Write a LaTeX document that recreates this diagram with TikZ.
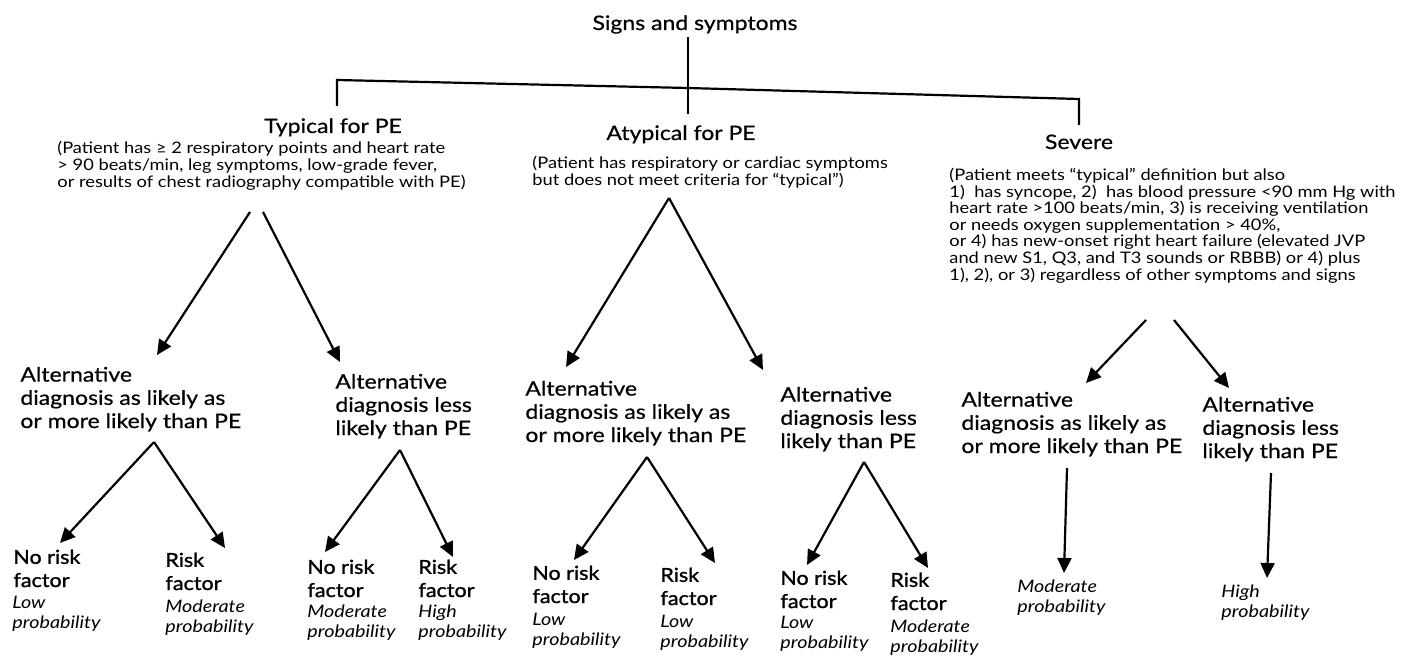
\documentclass[tikz,border=0pt]{standalone}
\usepackage{fontspec}
\setmainfont{Lato}[FakeStretch=1.15]
\newfontfamily\midfont{Lato}[FakeStretch=1.15,FakeBold=0.6]
\newfontfamily\heavyfont{Lato}[FakeStretch=1.12,FakeBold=1.2]
\usetikzlibrary{arrows.meta}
\begin{document}
\begin{tikzpicture}[x=0.5pt,y=-0.5pt,
  ln/.style={line width=1.1pt},
  arr/.style={line width=1.1pt,-{Triangle[length=7.5pt,width=7pt]}},
  ttl/.style={inner sep=0pt,anchor=base,font=\midfont\fontsize{10}{12}\selectfont},
  desc/.style={inner sep=0pt,align=left,anchor=base west,font=\fontsize{7.95}{8.3}\selectfont},
  child/.style={inner sep=0pt,align=left,anchor=base west,font=\midfont\fontsize{10}{11.6}\selectfont},
  leaf/.style={inner sep=0pt,align=left,anchor=base west,font=\heavyfont\fontsize{9.6}{11.6}\selectfont},
  prob/.style={inner sep=0pt,align=left,anchor=base west,font=\fontsize{8.6}{10}\selectfont\itshape}]
\useasboundingbox (0,0) rectangle (1402,658);
\fill[white] (0,0) rectangle (1402,658);

% top
\node[ttl] (root) at (695,30) {Signs and symptoms};
\coordinate (stemtop) at (688,37);
\coordinate (stembot) at (688,114);
\coordinate (barL) at (337,80);
\coordinate (barM) at (688,88);
\coordinate (barR) at (1079,99);
\coordinate (dropL) at (337,106);
\coordinate (dropR) at (1079,125);
\draw[ln] (stemtop) -- (stembot);
\draw[ln] (dropL) -- (barL) -- (barM) -- (barR) -- (dropR);

% categories (multi-line nodes are placed by the baseline of their last line)
\node[ttl] (typ) at (333,133) {Typical for PE};
\node[desc] (typd) at (57,187) {(Patient has ≥ 2 respiratory points and heart rate\\> 90 beats/min, leg symptoms, low-grade fever,\\or results of chest radiography compatible with PE)};
\node[ttl] (atyp) at (681,140) {Atypical for PE};
\node[desc] (atypd) at (532,185) {(Patient has respiratory or cardiac symptoms\\but does not meet criteria for “typical”)};
\node[ttl] (sev) at (1079,149) {Severe};
\node[desc] (sevd) at (949,280) {(Patient meets “typical” definition but also\\1)\ \ has syncope, 2)\ \ has blood pressure <90 mm Hg with\\heart rate >100 beats/min, 3) is receiving ventilation\\or needs oxygen supplementation > 40\%,\\or 4) has new-onset right heart failure (elevated JVP\\and new S1, Q3, and T3 sounds or RBBB) or 4) plus\\1), 2), or 3) regardless of other symptoms and signs};

% level 1 arrows
\coordinate (tL0) at (250,212); \coordinate (tL1) at (157,355);
\coordinate (tR0) at (263,212); \coordinate (tR1) at (340,362);
\coordinate (aA) at (669,198);  \coordinate (aL1) at (566,367); \coordinate (aR1) at (763,370);
\coordinate (sL0) at (1146,320); \coordinate (sL1) at (1086,383);
\coordinate (sR0) at (1174,320); \coordinate (sR1) at (1229,388);
\draw[arr] (tL0) -- (tL1);
\draw[arr] (tR0) -- (tR1);
\draw[arr] (aA) -- (aL1);
\draw[arr] (aA) -- (aR1);
\draw[arr] (sL0) -- (sL1);
\draw[arr] (sR0) -- (sR1);

% level 2 nodes
\node[child] (TL) at (20,428) {Alternative\\diagnosis as likely as\\or more likely than PE};
\node[child] (TR) at (335,435) {Alternative\\diagnosis less\\likely than PE};
\node[child] (AL) at (525,442) {Alternative\\diagnosis as likely as\\or more likely than PE};
\node[child] (AR) at (780,448) {Alternative\\diagnosis less\\likely than PE};
\node[child] (SL) at (961,453) {Alternative\\diagnosis as likely as\\or more likely than PE};
\node[child] (SR) at (1202,458) {Alternative\\diagnosis less\\likely than PE};

% level 2 arrows
\coordinate (TLa) at (154,442); \coordinate (TLl) at (60,543);  \coordinate (TLr) at (225,548);
\coordinate (TRa) at (400,450); \coordinate (TRl) at (325,552); \coordinate (TRr) at (453,557);
\coordinate (ALa) at (647,457); \coordinate (ALl) at (574,560); \coordinate (ALr) at (715,563);
\coordinate (ARa) at (864,462); \coordinate (ARl) at (807,565); \coordinate (ARr) at (928,568);
\coordinate (SLa) at (1067,468); \coordinate (SLb) at (1064,573);
\coordinate (SRa) at (1271,473); \coordinate (SRb) at (1267,578);
\draw[arr] (TLa) -- (TLl); \draw[arr] (TLa) -- (TLr);
\draw[arr] (TRa) -- (TRl); \draw[arr] (TRa) -- (TRr);
\draw[arr] (ALa) -- (ALl); \draw[arr] (ALa) -- (ALr);
\draw[arr] (ARa) -- (ARl); \draw[arr] (ARa) -- (ARr);
\draw[arr] (SLa) -- (SLb);
\draw[arr] (SRa) -- (SRb);

% leaves
\node[leaf] (l1) at (13,587) {No risk\\factor};
\node[prob] (p1) at (12,628) {Low\\probability};
\node[leaf] (l2) at (165,590) {Risk\\factor};
\node[prob] (p2) at (165,632) {Moderate\\probability};
\node[leaf] (l3) at (307,597) {No risk\\factor};
\node[prob] (p3) at (307,637) {Moderate\\probability};
\node[leaf] (l4) at (418,597) {Risk\\factor};
\node[prob] (p4) at (418,637) {High\\probability};
\node[leaf] (l5) at (532,603) {No risk\\factor};
\node[prob] (p5) at (532,645) {Low\\probability};
\node[leaf] (l6) at (660,605) {Risk\\factor};
\node[prob] (p6) at (660,647) {Low\\probability};
\node[leaf] (l7) at (780,608) {No risk\\factor};
\node[prob] (p7) at (780,648) {Low\\probability};
\node[leaf] (l8) at (890,610) {Risk\\factor};
\node[prob] (p8) at (890,652) {Moderate\\probability};
\node[prob] (p9) at (1017,612) {Moderate\\probability};
\node[prob] (p10) at (1221,617) {High\\probability};
\end{tikzpicture}
\end{document}
